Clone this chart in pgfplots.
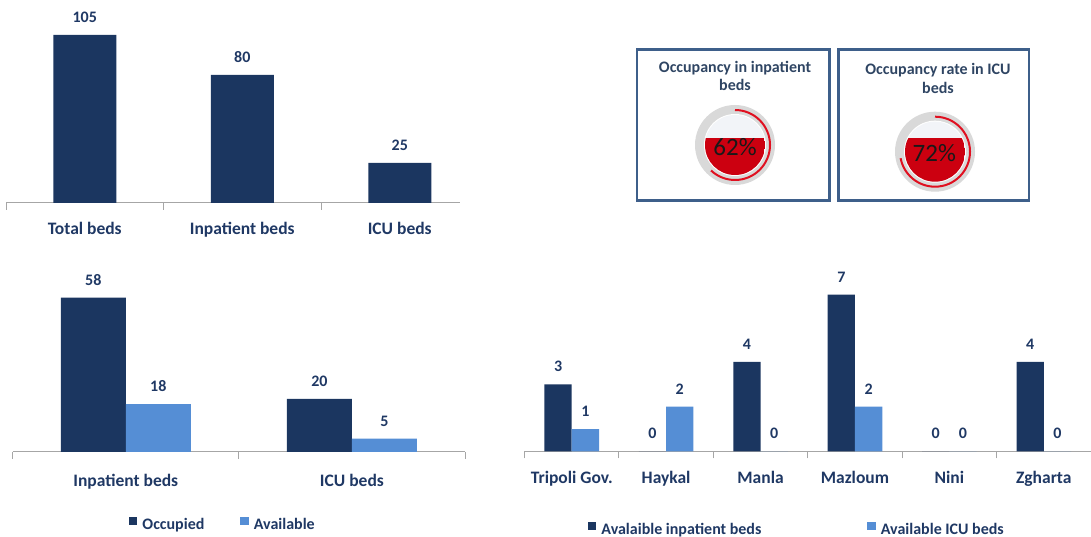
\documentclass[border=0pt]{standalone}
\usepackage{fontspec}
\setmainfont{Carlito}
\usepackage{pgfplots}
\pgfplotsset{compat=1.18}
\definecolor{dark}{HTML}{1B3660}
\definecolor{light}{HTML}{558ED5}
\definecolor{txt}{HTML}{1F3864}
\definecolor{axisgray}{HTML}{A6A6A6}
\definecolor{boxblue}{HTML}{3E5F8A}
\definecolor{titlecol}{HTML}{2F4563}
\definecolor{gaugered}{HTML}{CC0010}
\definecolor{arcred}{HTML}{E01020}
\definecolor{gaugegray}{HTML}{D9D9D9}
\definecolor{gaugelight}{HTML}{F2F4F8}
\pgfplotsset{
  barpanel/.style={
    scale only axis, axis x line*=bottom, axis y line=none,
    ymin=0, clip=false,
    x axis line style={draw=axisgray, line width=1pt},
    tick align=outside, major tick length=0pt, minor tick length=7pt,
    minor x tick style={draw=axisgray, line width=1pt},
    xticklabel style={font=\fontsize{17.5}{20}\selectfont\bfseries, text=txt, anchor=base, yshift=-32pt},
    /pgf/number format/assume math mode=true,
    nodes near coords,
    every node near coord/.append style={font=\fontsize{16}{18}\selectfont\bfseries, text=txt, inner sep=0pt, anchor=base, yshift=12.5pt},
    legend style={draw=none, fill=none, inner sep=0pt, outer sep=0pt, anchor=west,
      font=\fontsize{16}{18}\selectfont\bfseries, text=txt,
      nodes={inner sep=0pt},
      /tikz/every odd column/.append style={column sep=5pt}},
    legend columns=2,
  },
  sqlegend/.style={legend image code/.code={\fill[##1] (0pt,-0.5pt) rectangle (8.5pt,8pt);}},
  gauge/.style={hide axis, scale only axis, x=1pt, y=1pt, xmin=-45, xmax=45, ymin=-45, ymax=45,
    disabledatascaling, anchor=center, clip=false},
}
\begin{document}
\begin{tikzpicture}
\useasboundingbox (0pt,0pt) rectangle (1091pt,537pt);

% Panel 1
\begin{axis}[barpanel, at={(6pt,334pt)}, anchor=south west,
  width=454pt, height=192pt, xmin=-0.5, xmax=2.3825, ymax=120,
  ybar, bar width=63pt,
  xtick={0,1,2}, xticklabels={Total beds, Inpatient beds, ICU beds},
  minor xtick={-0.5,0.5,1.5}]
\addplot[fill=dark, draw=none] coordinates {(0,105) (1,80) (2,25)};
\end{axis}

% Panel 2
\begin{axis}[barpanel, at={(12.7pt,85pt)}, anchor=south west,
  width=452.3pt, height=186.2pt, xmin=-0.5, xmax=1.5, ymax=70,
  ybar=0pt, bar width=65pt, sqlegend,
  xtick={0,1}, xticklabels={Inpatient beds, ICU beds},
  xticklabel style={yshift=-2.5pt},
  minor xtick={-0.5,0.5,1.5},
  legend style={at={(0.257,-0.387)}, /tikz/every even column/.append style={column sep=36pt}}]
\addplot[fill=dark, draw=none] coordinates {(0,58) (1,20)};
\addplot[fill=light, draw=none] coordinates {(0,18) (1,5)};
\legend{Occupied, Available}
\end{axis}

% Panel 3
\begin{axis}[barpanel, at={(524.5pt,85.5pt)}, anchor=south west,
  width=566.5pt, height=190.4pt, xmin=-0.5, xmax=5.5, ymax=8.5,
  ybar=0pt, bar width=27.3pt, sqlegend,
  xtick={0,1,2,3,4,5}, xticklabels={Tripoli Gov., Haykal, Manla, Mazloum, Nini, Zgharta},
  minor xtick={-0.5,0.5,1.5,2.5,3.5,4.5},
  legend style={at={(0.112,-0.407)}, /tikz/every even column/.append style={column sep=106pt}}]
\addplot[fill=dark, draw=none] coordinates {(0,3) (1,0) (2,4) (3,7) (4,0) (5,4)};
\addplot[fill=light, draw=none] coordinates {(0,1) (1,2) (2,0) (3,2) (4,0) (5,0)};
\legend{Avalaible inpatient beds, Available ICU beds}
\end{axis}

% Boxes
\draw[boxblue, line width=2.5pt] (637.2pt,336.3pt) rectangle (829.5pt,487.5pt);
\draw[boxblue, line width=2.5pt] (838.5pt,336.3pt) rectangle (1028.8pt,487.5pt);
\node[font=\fontsize{16}{18.3}\selectfont\bfseries, text=titlecol, align=center] at (735pt,461.2pt) {Occupancy in inpatient\\beds};
\node[font=\fontsize{16}{18.3}\selectfont\bfseries, text=titlecol, align=center] at (938pt,458.4pt) {Occupancy rate in ICU\\beds};

% Gauge 1
\begin{axis}[gauge, at={(735pt,392pt)}]
\def\pct{62}
\fill[gaugegray] (axis cs:0,0) circle[radius=40pt];
\fill[white] (axis cs:0,0) circle[radius=31pt];
\fill[gaugelight] (axis cs:0,0) circle[radius=30pt];
\begin{scope}
\clip (axis cs:0,0) circle[radius=30pt];
\fill[gaugered] (axis cs:-30,-30) rectangle (axis cs:30,{-30+0.6*\pct});
\end{scope}
\draw[arcred, line width=2pt] (axis cs:0,35) arc[start angle=90, end angle={90-3.6*\pct}, radius=35pt];
\node[font=\fontsize{25}{30}\selectfont, text=black!90] at (axis cs:0,-1.7) {62\%};
\end{axis}

% Gauge 2
\begin{axis}[gauge, at={(935pt,385.3pt)}]
\def\pct{72}
\fill[gaugegray] (axis cs:0,0) circle[radius=40pt];
\fill[white] (axis cs:0,0) circle[radius=31pt];
\fill[gaugelight] (axis cs:0,0) circle[radius=30pt];
\begin{scope}
\clip (axis cs:0,0) circle[radius=30pt];
\fill[gaugered] (axis cs:-30,-30) rectangle (axis cs:30,{-30+0.6*\pct});
\end{scope}
\draw[arcred, line width=2pt] (axis cs:0,35) arc[start angle=90, end angle={90-3.6*\pct}, radius=35pt];
\node[font=\fontsize{25}{30}\selectfont, text=black!90] at (axis cs:-0.7,-1) {72\%};
\end{axis}
\end{tikzpicture}
\end{document}
